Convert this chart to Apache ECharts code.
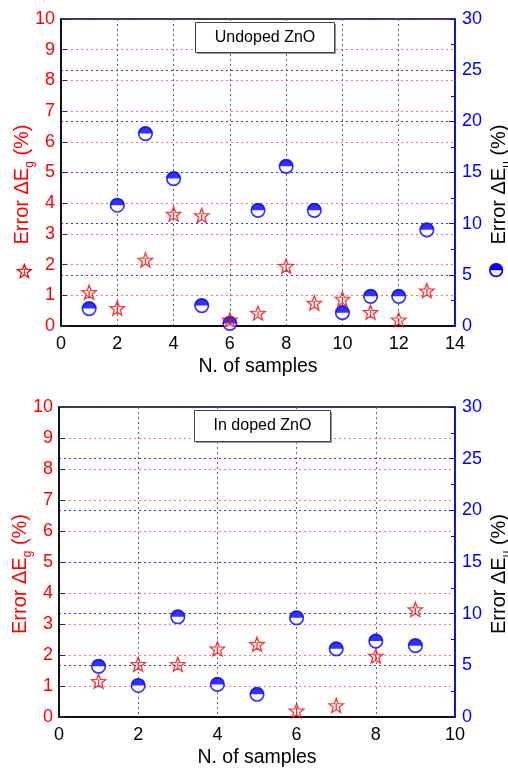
<!DOCTYPE html>
<html><head><meta charset="utf-8">
<script src="https://cdn.jsdelivr.net/npm/echarts@6/dist/echarts.min.js"></script>
<style>html,body{margin:0;padding:0;background:#fff}#c{width:508px;height:768px}</style>
</head><body><div id="c"></div>
<script>
const topSamples = [1,2,3,4,5,6,7,8,9,10,11,12,13];
const topStars = [1.1, 0.58, 2.15, 3.65, 3.6, 0.2, 0.42, 1.95, 0.75, 0.88, 0.45, 0.2, 1.15];
const topCircles = [1.7, 11.8, 18.8, 14.4, 2.0, 0.25, 11.3, 15.6, 11.3, 1.3, 2.9, 2.9, 9.4];
const botSamples = [1,2,3,4,5,6,7,8,9];
const botStars = [1.15, 1.7, 1.7, 2.2, 2.35, 0.2, 0.37, 1.97, 3.47];
const botCircles = [4.9, 3.05, 9.7, 3.15, 2.2, 9.6, 6.6, 7.35, 6.9];
const topTitle = 'Undoped ZnO';
const botTitle = 'In doped ZnO';
const xName = 'N. of samples';

const RED = '#ff0000', BLUE = '#0000ff';
const FONT = 'Liberation Sans, Arial, sans-serif';
const STAR = 'path://M10,0 L12.47,6.60 L19.51,6.91 L14.0,11.3 L15.88,18.09 L10,14.2 L4.12,18.09 L6.0,11.3 L0.49,6.91 L7.53,6.60 Z M10,6.5 L10,14';
const HALF = 'path://M0,10 A10,10 0 0 1 20,10 Z';

function pts(xs, ys){ return xs.map((x,i)=>[x, ys[i]]); }

const richL = {
  a:{fontSize:20, color:RED, fontFamily:FONT, lineHeight:28, verticalAlign:'middle'},
  s:{fontSize:12, color:RED, fontFamily:FONT, lineHeight:12, verticalAlign:'bottom'},
  sp:{width:24, fontSize:20}
};
const richR = {
  b:{fontSize:20, color:'#000', fontFamily:FONT, lineHeight:28, verticalAlign:'middle'},
  t:{fontSize:12, color:'#000', fontFamily:FONT, lineHeight:12, verticalAlign:'bottom'},
  sp:{width:24, fontSize:20}
};

function xAxis(gi, max){
  return {
    type:'value', gridIndex:gi, min:0, max:max, interval:2,
    name:xName, nameLocation:'middle', nameGap:31,
    nameTextStyle:{fontSize:19.5, color:'#000', fontFamily:FONT},
    axisLine:{show:true, onZero:false, lineStyle:{color:'#000', width:1.5}},
    axisTick:{show:false},
    axisLabel:{fontSize:18, color:'#000', fontFamily:FONT, margin:9},
    splitLine:{show:true, lineStyle:{color:'#666', type:[2,3], width:1}}
  };
}
function yLeft(gi){
  return {
    type:'value', gridIndex:gi, min:0, max:10, interval:1, position:'left',
    name:'{a|Error ΔE}{s|g}{a| (%)}{sp| }', nameLocation:'middle', nameRotate:90, nameGap:25,
    nameMoveOverlap:false,
    nameTextStyle:{rich:richL},
    axisLine:{show:true, lineStyle:{color:'#000', width:1.5}},
    axisTick:{show:true, inside:true, length:6, lineStyle:{color:'#333'}},
    axisLabel:{fontSize:18, color:RED, fontFamily:FONT, margin:6},
    splitLine:{show:true, lineStyle:{color:'#ff7070', type:[2,3], width:1}}
  };
}
function yRight(gi){
  return {
    type:'value', gridIndex:gi, min:0, max:30, interval:5, position:'right',
    name:'{b|Error ΔE}{t|u}{b| (%)}{sp| }', nameLocation:'middle', nameRotate:90, nameGap:30,
    nameMoveOverlap:false,
    nameTextStyle:{rich:richR},
    axisLine:{show:true, lineStyle:{color:BLUE, width:1.5}},
    axisTick:{show:true, inside:true, length:6, lineStyle:{color:BLUE}},
    minorTick:{show:true, splitNumber:2, length:4, lineStyle:{color:BLUE}},
    axisLabel:{fontSize:18, color:BLUE, fontFamily:FONT, margin:7},
    splitLine:{show:true, lineStyle:{color:'#3030ff', type:[2,3], width:1}}
  };
}
function circleSeries(xi, yi, data){
  return [
    {type:'scatter', xAxisIndex:xi, yAxisIndex:yi, data:data, symbol:'circle', symbolSize:13.5,
     itemStyle:{color:'#fff', borderColor:BLUE, borderWidth:1.7}, z:3, silent:true},
    {type:'scatter', xAxisIndex:xi, yAxisIndex:yi, data:data, symbol:HALF, symbolSize:[13.5,6.75],
     symbolOffset:[0,-3.4], itemStyle:{color:BLUE}, z:4, silent:true}
  ];
}
function starSeries(xi, yi, data){
  return {type:'scatter', xAxisIndex:xi, yAxisIndex:yi, data:data, symbol:STAR, symbolSize:[14.5,14],
    itemStyle:{color:'rgba(255,255,255,0)', borderColor:RED, borderWidth:1.3}, z:5, silent:true};
}
function box(x, y, w, h, txt){
  return {type:'group', left:x, top:y, z:100, children:[
    {type:'rect', z:100, shape:{x:1.5, y:1.5, width:w, height:h}, style:{fill:'#999'}},
    {type:'rect', z:101, shape:{x:0, y:0, width:w, height:h}, style:{fill:'#fff', stroke:'#444', lineWidth:1}},
    {type:'text', z:102, x:w/2, y:h/2, style:{text:txt, fontSize:16, fontFamily:FONT, fill:'#000', align:'center', verticalAlign:'middle'}}
  ]};
}
const starPts = [[10,0],[12.47,6.6],[19.51,6.91],[14,11.3],[15.88,18.09],[10,14.2],[4.12,18.09],[6,11.3],[0.49,6.91],[7.53,6.6]].map(p=>[p[0]*0.72, p[1]*0.72]);

const chart = echarts.init(document.getElementById('c'));
chart.setOption({
  animation:false,
  grid:[
    {left:61, right:53, top:19, height:307, show:true, borderColor:'#000', borderWidth:1.5, containLabel:false, outerBoundsMode:'none'},
    {left:59, right:53, top:407, height:310, show:true, borderColor:'#000', borderWidth:1.5, containLabel:false, outerBoundsMode:'none'}
  ],
  xAxis:[xAxis(0,14), xAxis(1,10)],
  yAxis:[yLeft(0), yRight(0), yLeft(1), yRight(1)],
  series:[
    ...circleSeries(0,1,pts(topSamples, topCircles)),
    starSeries(0,0,pts(topSamples, topStars)),
    ...circleSeries(1,3,pts(botSamples, botCircles)),
    starSeries(1,2,pts(botSamples, botStars))
  ],
  graphic:[
    box(195, 22, 139, 30, topTitle),
    box(194, 410, 136, 31, botTitle),
    {type:'group', left:15, top:262, z:100, children:[
      {type:'polygon', shape:{points:starPts}, style:{fill:'none', stroke:RED, lineWidth:1.3}},
      {type:'line', shape:{x1:7.2, y1:4.6, x2:7.2, y2:10}, style:{stroke:RED, lineWidth:1}}
    ]},
    {type:'group', left:489, top:263, z:100, children:[
      {type:'circle', shape:{cx:7, cy:7, r:6.3}, style:{fill:'#fff', stroke:BLUE, lineWidth:1.7}},
      {type:'sector', shape:{cx:7, cy:7, r0:0, r:6.3, startAngle:Math.PI, endAngle:2*Math.PI}, style:{fill:BLUE}}
    ]}
  ]
});
</script></body></html>
